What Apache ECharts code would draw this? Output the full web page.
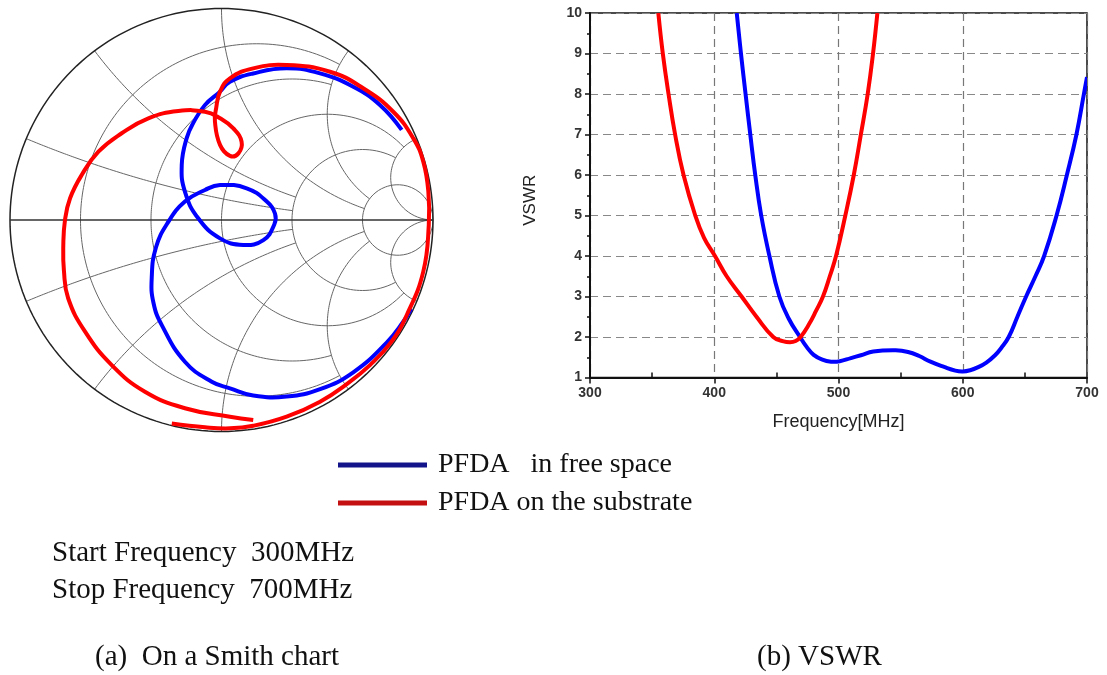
<!DOCTYPE html>
<html>
<head>
<meta charset="utf-8">
<script src="https://cdn.jsdelivr.net/npm/echarts@6/dist/echarts.min.js"></script>
<style>
  html, body { margin: 0; padding: 0; background: #fff; }
  #chart { width: 1107px; height: 675px; }
</style>
</head>
<body>
<div id="chart"></div>
<script>
const names = ['PFDA   in free space', 'PFDA on the substrate']

// reflection coefficient traces, [re, im]
const freeSpaceGamma = [
  [0.852, 0.426], [0.749, 0.544], [0.623, 0.630], [0.466, 0.693], [0.308, 0.717],
  [0.150, 0.693], [0.040, 0.654], [-0.007, 0.607], [-0.078, 0.544], [-0.130, 0.465],
  [-0.165, 0.386], [-0.188, 0.260], [-0.173, 0.134], [-0.110, 0.008], [-0.007, -0.087],
  [0.103, -0.118], [0.198, -0.095], [0.250, -0.020], [0.253, 0.030], [0.214, 0.087],
  [0.119, 0.150], [-0.007, 0.165], [-0.078, 0.142], [-0.173, 0.087], [-0.251, -0.008],
  [-0.310, -0.130], [-0.330, -0.276], [-0.322, -0.390], [-0.283, -0.496], [-0.173, -0.670],
  [-0.046, -0.765], [0.040, -0.796], [0.150, -0.830], [0.308, -0.835], [0.466, -0.800],
  [0.623, -0.720], [0.781, -0.580], [0.860, -0.480], [0.897, -0.420]
]
const substrateGamma = [
  [-0.235, -0.962], [-0.078, -0.980], [0.040, -0.985], [0.150, -0.973], [0.308, -0.930],
  [0.466, -0.859], [0.600, -0.770], [0.702, -0.686], [0.800, -0.580], [0.876, -0.449],
  [0.954, -0.244], [0.980, -0.024], [0.978, 0.134], [0.954, 0.276], [0.907, 0.386],
  [0.812, 0.512], [0.670, 0.623], [0.513, 0.701], [0.308, 0.733], [0.150, 0.717],
  [0.040, 0.670], [-0.007, 0.607], [-0.025, 0.530], [-0.031, 0.465], [-0.007, 0.355],
  [0.040, 0.303], [0.080, 0.315], [0.095, 0.370], [0.056, 0.433], [-0.007, 0.481],
  [-0.078, 0.512], [-0.204, 0.515], [-0.346, 0.481], [-0.472, 0.410], [-0.582, 0.323],
  [-0.661, 0.213], [-0.716, 0.103], [-0.740, 0.000], [-0.748, -0.120], [-0.745, -0.240],
  [-0.725, -0.370], [-0.645, -0.528], [-0.519, -0.686], [-0.362, -0.812], [-0.173, -0.890],
  [0.040, -0.930], [0.150, -0.946]
]

// VSWR against frequency, [MHz, VSWR]
const freeSpaceVswr = [
  [418.1, 10], [421.5, 9], [425.2, 8], [429, 7], [433, 6], [437.8, 5], [444.4, 4],
  [452.4, 3], [460, 2.45], [469, 2], [474.5, 1.75], [480, 1.56], [487, 1.44], [494, 1.39],
  [501, 1.40], [510, 1.48], [518, 1.55], [528, 1.64], [546, 1.67], [556, 1.63], [565, 1.53],
  [574, 1.39], [585, 1.26], [594, 1.17], [600, 1.15], [606, 1.18], [612, 1.25], [619, 1.37],
  [626, 1.55], [631, 1.73], [637, 2], [644, 2.5], [651, 3], [658.5, 3.5], [665.5, 4],
  [675.5, 5], [683.8, 6], [691.5, 7], [697.5, 8], [700, 8.42]
]
const substrateVswr = [
  [355, 10], [358.6, 9], [363.2, 8], [368.5, 7], [375.3, 6], [384.7, 5], [391.8, 4.45],
  [400.6, 4], [410, 3.5], [422, 3], [434, 2.5], [447.5, 2], [455, 1.9], [461, 1.87],
  [465.5, 1.9], [469.5, 2], [476, 2.3], [482, 2.65], [487.5, 3], [493, 3.5], [498, 4],
  [505.5, 5], [512.3, 6], [518, 7], [523.5, 8], [527.8, 9], [531.3, 10]
]

// smith chart grid: resistance circles / reactance arcs and how far each one is drawn
const smithR = [0.2, 0.5, 1, 2, 5]
const smithX = [0.2, 0.5, 1, 2, 5]
const smithLimit = [2, 2, 5, 5, Infinity]

const freqRange = [300, 700]
const vswrRange = [1, 10]

const curveColors = ['#0000ff', '#ff0000']
const legendColors = ['#14148a', '#c41010']

function gamma(r, x) {
  const d = (r + 1) * (r + 1) + x * x
  return [(r * r + x * x - 1) / d, 2 * x / d]
}

function rCircle(r, xMax) {
  const tMax = xMax === Infinity ? Math.PI / 2 : Math.atan(xMax)
  const pts = []
  const n = 200
  for (let i = 0; i <= n; i++) {
    const t = -tMax + 2 * tMax * i / n
    pts.push(gamma(r, Math.tan(t)))
  }
  return pts
}

function xArc(x, rMax) {
  const tMax = rMax === Infinity ? Math.PI / 2 : Math.atan(rMax)
  const pts = []
  const n = 160
  for (let i = 0; i <= n; i++) {
    const t = tMax * i / n
    pts.push(gamma(Math.tan(t), x))
  }
  return pts
}

function gridLine(data, color, width) {
  return {
    type: 'line', xAxisIndex: 0, yAxisIndex: 0, data: data,
    showSymbol: false, silent: true, clip: false, animation: false, z: 1,
    lineStyle: { color: color, width: width }
  }
}

// one smooth stroke through all points of a trace, placed with the axes' own coord()
function curve(name, pts, axis, color, z) {
  return {
    name: name, type: 'custom', xAxisIndex: axis, yAxisIndex: axis,
    data: pts, z: z, clip: axis === 1, silent: true,
    itemStyle: { color: color },
    renderItem: function (params, api) {
      if (params.dataIndex !== 0) return null
      return {
        type: 'polyline',
        shape: { points: pts.map(p => api.coord(p)), smooth: 0.45 },
        style: { stroke: color, lineWidth: 4, fill: 'none', lineJoin: 'round', lineCap: 'butt' }
      }
    }
  }
}

const smithSeries = []
smithR.forEach((r, i) => smithSeries.push(gridLine(rCircle(r, smithLimit[i]), '#666', 1)))
smithX.forEach((x, i) => {
  smithSeries.push(gridLine(xArc(x, smithLimit[i]), '#666', 1))
  smithSeries.push(gridLine(xArc(-x, smithLimit[i]), '#666', 1))
})
smithSeries.push(gridLine(rCircle(0, Infinity), '#222', 1.5))
smithSeries.push(gridLine([[-1, 0], [1, 0]], '#333', 1.5))

const axisFont = 'Liberation Sans, Arial, sans-serif'
const serifFont = 'Liberation Serif, Times New Roman, serif'

const option = {
  backgroundColor: '#fff',
  animation: false,
  title: [
    {
      text: 'Start Frequency  300MHz\nStop Frequency  700MHz',
      left: 52, top: 534.5, padding: 0,
      textStyle: { fontFamily: serifFont, fontSize: 29, fontWeight: 'normal', color: '#111', lineHeight: 37 }
    },
    {
      text: '(a)  On a Smith chart',
      left: 95, top: 638.5, padding: 0,
      textStyle: { fontFamily: serifFont, fontSize: 29, fontWeight: 'normal', color: '#111', lineHeight: 37 }
    },
    {
      text: '(b) VSWR',
      left: 757, top: 638.5, padding: 0,
      textStyle: { fontFamily: serifFont, fontSize: 29, fontWeight: 'normal', color: '#111', lineHeight: 37 }
    }
  ],
  legend: names.map((n, i) => ({
    data: [{ name: n, itemStyle: { color: legendColors[i] } }],
    left: 338,
    top: [450, 488][i],
    padding: 0,
    icon: 'rect',
    itemWidth: 89,
    itemHeight: 5,
    selectedMode: false,
    textStyle: { fontFamily: serifFont, fontSize: 28, color: '#111', padding: [0, 0, 0, 6], lineHeight: 30 }
  })),
  grid: [
    { left: 10, top: 8.5, width: 423, height: 423, show: false, outerBoundsMode: 'none' },
    {
      left: 590, top: 13, width: 497, height: 364.5, show: true,
      borderColor: '#111', borderWidth: 1.5, backgroundColor: 'transparent', outerBoundsMode: 'none'
    }
  ],
  xAxis: [
    { gridIndex: 0, type: 'value', min: -1, max: 1, show: false },
    {
      gridIndex: 1, type: 'value', min: freqRange[0], max: freqRange[1], interval: 100,
      name: 'Frequency[MHz]', nameLocation: 'middle', nameGap: 36,
      nameTextStyle: { fontFamily: axisFont, fontSize: 18, color: '#222' },
      axisLine: { show: true, lineStyle: { color: '#111', width: 2 } },
      axisTick: { show: true, length: 6, lineStyle: { color: '#111', width: 1.5 } },
      minorTick: { show: true, splitNumber: 2, length: -5, lineStyle: { color: '#111', width: 1.5 } },
      axisLabel: { fontFamily: axisFont, fontSize: 14, fontWeight: 'bold', color: '#333', margin: 9 },
      splitLine: { show: true, lineStyle: { color: '#777', type: [8, 5], width: 1.2 } }
    }
  ],
  yAxis: [
    { gridIndex: 0, type: 'value', min: -1, max: 1, show: false },
    {
      gridIndex: 1, type: 'value', min: vswrRange[0], max: vswrRange[1], interval: 1,
      name: 'VSWR', nameLocation: 'middle', nameRotate: 90, nameGap: 51,
      nameTextStyle: { fontFamily: axisFont, fontSize: 17, color: '#222', padding: [0, 10, 0, 0] },
      axisLine: { show: true, lineStyle: { color: '#111', width: 2 } },
      axisTick: { show: true, length: 5, lineStyle: { color: '#111', width: 1.5 } },
      minorTick: { show: true, splitNumber: 2, length: 3, lineStyle: { color: '#111', width: 1.5 } },
      axisLabel: { fontFamily: axisFont, fontSize: 14, fontWeight: 'bold', color: '#333', margin: 8 },
      splitLine: { show: true, lineStyle: { color: '#888', type: [8, 5], width: 1.2 } }
    }
  ],
  series: smithSeries.concat([
    curve(names[0], freeSpaceGamma, 0, curveColors[0], 3),
    curve(names[1], substrateGamma, 0, curveColors[1], 4),
    curve(names[0], freeSpaceVswr, 1, curveColors[0], 3),
    curve(names[1], substrateVswr, 1, curveColors[1], 4)
  ])
}

const myChart = echarts.init(document.getElementById('chart'))
myChart.setOption(option)
</script>
</body>
</html>
